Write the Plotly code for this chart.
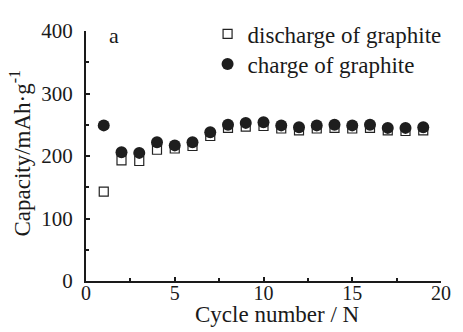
import plotly.graph_objects as go

cycles = list(range(1, 20))
charge = [249, 206, 205, 222, 217, 222, 238, 250, 253, 254, 249, 246, 249, 250, 249, 250, 245, 245, 246]
discharge = [143, 193, 192, 210, 212, 216, 232, 245, 247, 248, 244, 241, 244, 245, 244, 245, 241, 240, 241]

FONT = "Liberation Serif"
TXT = "#1a1a1a"

fig = go.Figure()
fig.add_trace(go.Scatter(
    x=cycles, y=discharge, mode="markers", name="discharge of graphite", legend="legend",
    marker=dict(symbol="square-open", size=9, color="#222222", line=dict(width=1.2, color="#222222")),
))
fig.add_trace(go.Scatter(
    x=cycles, y=charge, mode="markers", name="charge of graphite", legend="legend2",
    marker=dict(symbol="circle", size=12, color="#1e1e1e"),
))

legend_common = dict(xanchor="left", yanchor="middle", bgcolor="rgba(0,0,0,0)",
                     font=dict(family=FONT, size=23, color=TXT), itemsizing="trace")

fig.update_layout(
    width=463, height=332,
    margin=dict(l=86, r=12, t=16, b=51),
    paper_bgcolor="white", plot_bgcolor="white",
    font=dict(family=FONT, size=22, color=TXT),
    showlegend=True,
    legend=dict(x=(211 - 86) / 365, y=(281 - 19) / 265, **legend_common),
    legend2=dict(x=(211 - 86) / 365, y=(281 - 51) / 265, **legend_common),
    xaxis=dict(range=[0, 20], tickvals=[0, 5, 10, 15, 20], showline=True, linecolor="#1a1a1a",
               linewidth=2, ticks="inside", ticklen=4, tickwidth=2, tickcolor="#1a1a1a",
               showgrid=False, zeroline=False, ticklabelstandoff=-7,
               minor=dict(ticks="inside", ticklen=3, tickwidth=1.5, dtick=2.5, tickcolor="#1a1a1a", showgrid=False),
               tickfont=dict(family=FONT, size=20, color=TXT)),
    yaxis=dict(range=[0, 400], tickvals=[0, 100, 200, 300, 400], showline=True, linecolor="#1a1a1a",
               linewidth=2, ticks="inside", ticklen=4, tickwidth=2, tickcolor="#1a1a1a",
               showgrid=False, zeroline=False, ticklabelstandoff=7,
               minor=dict(ticks="inside", ticklen=3, tickwidth=1.5, dtick=50, tickcolor="#1a1a1a", showgrid=False),
               tickfont=dict(family=FONT, size=21, color=TXT)),
    annotations=[
        dict(text="a", x=1.6, y=393, xref="x", yref="y", showarrow=False,
             font=dict(family=FONT, size=22, color=TXT)),
        dict(text="Cycle number / N", x=(283 - 86) / 365, y=-(316 - 281) / 265, xref="paper", yref="paper",
             showarrow=False, xanchor="center", yanchor="middle",
             font=dict(family=FONT, size=23, color=TXT)),
        dict(text="Capacity/mAh·g<sup>-1</sup>", x=-(86 - 19) / 365, y=(281 - 145) / 265,
             xref="paper", yref="paper", showarrow=False, textangle=-90,
             xanchor="center", yanchor="middle",
             font=dict(family=FONT, size=23, color=TXT)),
    ],
)

fig.write_html("out.html")
